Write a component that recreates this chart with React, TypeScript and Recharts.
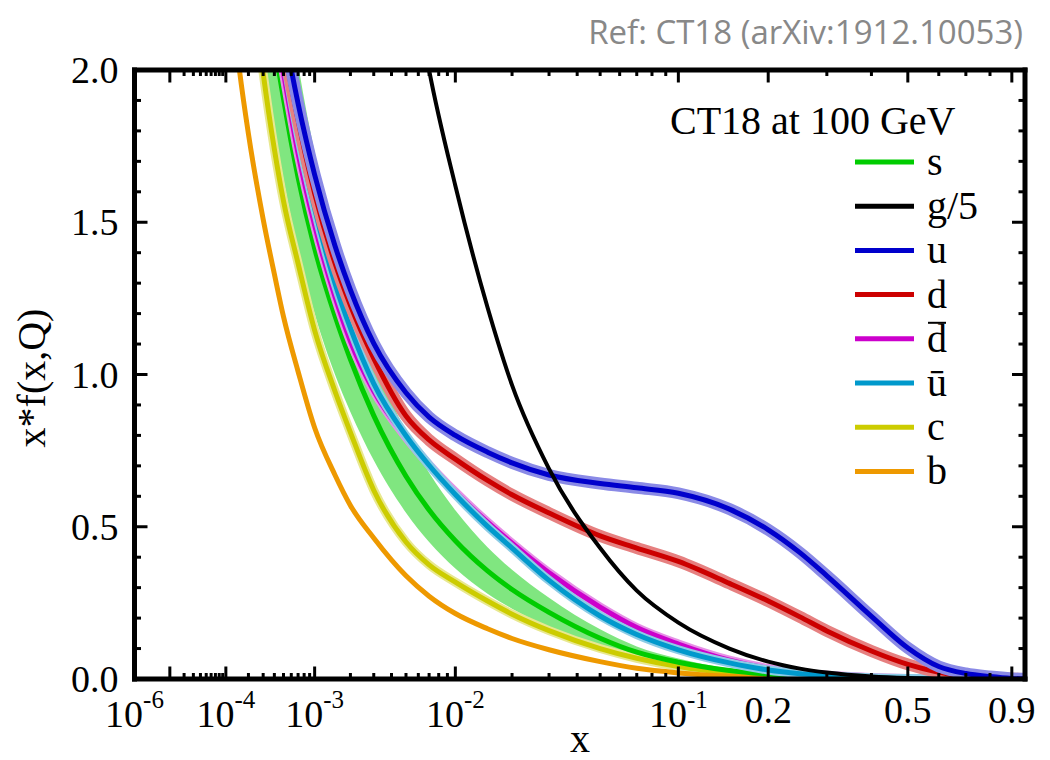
import React from 'react'
import { ComposedChart, Line, Area, XAxis, YAxis } from 'recharts'

// momentum fraction x where the curves are sampled
const xGrid = [
  1e-4, 1.5e-4, 2e-4, 3e-4, 4e-4, 5e-4, 7e-4, 1e-3, 1.5e-3, 2e-3,
  3e-3, 5e-3, 7e-3, 0.01, 0.015, 0.02, 0.03, 0.05, 0.07, 0.1,
  0.15, 0.2, 0.25, 0.3, 0.4, 0.5, 0.6, 0.7, 0.8, 0.9, 0.96,
]

// x*f(x,Q) at Q = 100 GeV
const sVals = [3.74, 3.15, 2.8, 2.36, 2.09, 1.905, 1.647, 1.414, 1.193, 1.05, 0.865, 0.666, 0.555, 0.454, 0.355, 0.294, 0.219, 0.134, 0.088, 0.055, 0.028, 0.016, 0.009, 0.0055, 0.002, 0.0008, 0, 0, 0, 0, 0]
const sLow = [3.25, 2.74, 2.44, 2.05, 1.81, 1.64, 1.41, 1.2, 1.0, 0.877, 0.718, 0.546, 0.45, 0.363, 0.28, 0.231, 0.171, 0.104, 0.0686, 0.043, 0.0218, 0.0125, 0.007, 0.0043, 0.0016, 0.0006, 0, 0, 0, 0, 0]
const sHigh = [4.6, 3.88, 3.45, 2.9, 2.57, 2.34, 2.02, 1.73, 1.46, 1.285, 1.055, 0.812, 0.677, 0.554, 0.433, 0.359, 0.267, 0.163, 0.107, 0.067, 0.034, 0.0195, 0.011, 0.0067, 0.0024, 0.001, 0, 0, 0, 0, 0]
const gOver5 = [12, 10.5, 9.5, 8.2, 7.4, 6.8, 5.9, 5.1, 4.3, 3.8, 3.2, 2.45, 2.0, 1.62, 1.22, 0.965, 0.69, 0.43, 0.29, 0.185, 0.1, 0.057, 0.034, 0.021, 0.008, 0.003, 0.001, 0.0003, 0, 0, 0]
const uVals = [3.89, 3.34, 3.0, 2.59, 2.32, 2.14, 1.89, 1.656, 1.423, 1.278, 1.102, 0.94, 0.86, 0.8, 0.745, 0.71, 0.67, 0.642, 0.628, 0.61, 0.558, 0.49, 0.415, 0.339, 0.206, 0.102, 0.041, 0.018, 0.008, 0.002, 0.0005]
const dVals = [3.85, 3.3, 2.95, 2.56, 2.29, 2.09, 1.835, 1.595, 1.366, 1.227, 1.053, 0.864, 0.785, 0.722, 0.652, 0.605, 0.545, 0.47, 0.43, 0.386, 0.314, 0.256, 0.204, 0.158, 0.092, 0.048, 0.022, 0.009, 0.003, 0.001, 0]
const dbarVals = [3.72, 3.2, 2.87, 2.44, 2.17, 1.99, 1.726, 1.49, 1.255, 1.109, 0.946, 0.794, 0.704, 0.614, 0.515, 0.446, 0.349, 0.236, 0.169, 0.115, 0.062, 0.035, 0.02, 0.012, 0.005, 0.002, 0.0008, 0, 0, 0, 0]
const ubarVals = [3.8, 3.28, 2.92, 2.52, 2.26, 2.06, 1.79, 1.545, 1.3, 1.152, 0.97, 0.799, 0.702, 0.606, 0.501, 0.43, 0.324, 0.207, 0.146, 0.096, 0.053, 0.0295, 0.0176, 0.0106, 0.004, 0.0015, 0.0005, 0, 0, 0, 0]
const cVals = [3.26, 2.72, 2.39, 1.99, 1.74, 1.57, 1.365, 1.145, 0.945, 0.81, 0.62, 0.45, 0.375, 0.318, 0.256, 0.213, 0.159, 0.1, 0.068, 0.041, 0.02, 0.01, 0.005, 0.003, 0.001, 0, 0, 0, 0, 0, 0]
const bVals = [2.43, 2.02, 1.79, 1.51, 1.33, 1.19, 1.01, 0.825, 0.67, 0.57, 0.463, 0.339, 0.272, 0.215, 0.165, 0.133, 0.096, 0.057, 0.035, 0.02, 0.009, 0.004, 0.002, 0.001, 0, 0, 0, 0, 0, 0, 0]

// axis ticks
const xMajor = [1e-6, 1e-5, 1e-4, 1e-3, 1e-2, 0.1, 0.2, 0.5, 0.9]
const xMajorLabels: (string[] | null)[] = [['10', '-6'], null, ['10', '-4'], ['10', '-3'], ['10', '-2'], ['10', '-1'], ['0.2'], ['0.5'], ['0.9']]
const xMinor = [
  2e-5, 3e-5, 4e-5, 5e-5, 6e-5, 7e-5, 8e-5, 9e-5,
  2e-4, 3e-4, 4e-4, 5e-4, 6e-4, 7e-4, 8e-4, 9e-4,
  2e-3, 3e-3, 4e-3, 5e-3, 6e-3, 7e-3, 8e-3, 9e-3,
  0.02, 0.03, 0.04, 0.05, 0.06, 0.07, 0.08, 0.09,
  0.3, 0.4, 0.6, 0.7, 0.8,
]
const yMajor = [0, 0.5, 1, 1.5, 2]
const yMajorLabels = ['0.0', '0.5', '1.0', '1.5', '2.0']
const yMinor = [0.1, 0.2, 0.3, 0.4, 0.6, 0.7, 0.8, 0.9, 1.1, 1.2, 1.3, 1.4, 1.6, 1.7, 1.8, 1.9]

const legendNames = ['s', 'g/5', 'u', 'd', 'd', '\u016b', 'c', 'b']
const legendColors = ['#00cc00', '#000000', '#0000cc', '#cc0000', '#cc00cc', '#0099cc', '#cccc00', '#ee9900']

const SERIF = '"Liberation Serif", "Times New Roman", serif'
const X_MIN = 1e-6
const X_MAX = 0.965
const XPOW = 0.2 // the x axis is linear in x^0.2
const tOf = (x: number) => Math.pow(x, XPOW)

const rows = xGrid.map((x, i) => ({
  t: tOf(x),
  s: sVals[i],
  sBand: [sLow[i], sHigh[i]],
  g: gOver5[i],
  u: uVals[i],
  d: dVals[i],
  dbar: dbarVals[i],
  ubar: ubarVals[i],
  c: cVals[i],
  b: bVals[i],
}))

const xTicks = [...xMajor, ...xMinor].map(tOf)
const yTicks = [...yMajor, ...yMinor]

const majorX = (v: number) => xMajor.findIndex((m) => Math.abs(tOf(m) - v) < 1e-9)
const majorY = (v: number) => yMajor.findIndex((m) => Math.abs(m - v) < 1e-9)

function BottomTick(props: any) {
  const { x, y, payload } = props
  const k = majorX(payload.value)
  const len = k >= 0 ? 12.5 : 6
  const lab = k >= 0 ? xMajorLabels[k] : null
  return (
    <g>
      <line x1={x} x2={x} y1={y} y2={y - len} stroke="#000" strokeWidth={3} />
      {lab && lab.length === 2 && (
        <text x={x} y={y + 48} textAnchor="middle" fontFamily={SERIF} fontSize={38} fill="#000">
          {lab[0]}
          <tspan dy={-19} fontSize={25}>{lab[1]}</tspan>
        </text>
      )}
      {lab && lab.length === 1 && (
        <text x={x} y={y + 44} textAnchor="middle" fontFamily={SERIF} fontSize={38} fill="#000">
          {lab[0]}
        </text>
      )}
    </g>
  )
}

function TopTick(props: any) {
  const { x, y, payload } = props
  const len = majorX(payload.value) >= 0 ? 12.5 : 6
  return <line x1={x} x2={x} y1={y} y2={y + len} stroke="#000" strokeWidth={3} />
}

function LeftTick(props: any) {
  const { x, y, payload } = props
  const k = majorY(payload.value)
  const len = k >= 0 ? 13 : 6.5
  return (
    <g>
      <line x1={x} x2={x + len} y1={y} y2={y} stroke="#000" strokeWidth={3} />
      {k >= 0 && (
        <text x={x - 16} y={y + 13} textAnchor="end" fontFamily={SERIF} fontSize={38} fill="#000">
          {yMajorLabels[k]}
        </text>
      )}
    </g>
  )
}

function RightTick(props: any) {
  const { x, y, payload } = props
  const len = majorY(payload.value) >= 0 ? 13 : 6.5
  return <line x1={x} x2={x - len} y1={y} y2={y} stroke="#000" strokeWidth={3} />
}

const frame = { stroke: '#000', strokeWidth: 5, strokeLinecap: 'square' as const }

function curve(key: string, color: string, width: number) {
  return (
    <Line
      type="monotone"
      dataKey={key}
      stroke={color}
      strokeWidth={width}
      dot={false}
      activeDot={false}
      isAnimationActive={false}
    />
  )
}

export default function App() {
  return (
    <div style={{ position: 'absolute', left: 0, top: 0, width: 1050, height: 760, background: '#fff' }}>
      <ComposedChart width={1050} height={760} data={rows} margin={{ top: 69, right: 24, bottom: 80, left: 133.5 }}>
        <Area type="monotone" dataKey="sBand" fill="#80e680" fillOpacity={1} stroke="none" isAnimationActive={false} />
        {curve('c', '#e8e890', 9)}
        {curve('c', '#cccc00', 5)}
        {curve('b', '#ee9900', 5)}
        {curve('s', '#00cc00', 5)}
        {curve('dbar', '#e690e6', 9)}
        {curve('dbar', '#cc00cc', 5)}
        {curve('ubar', '#8ccce6', 9)}
        {curve('ubar', '#0099cc', 5)}
        {curve('d', '#e68080', 12)}
        {curve('d', '#cc0000', 5)}
        {curve('u', '#8a8ae6', 12)}
        {curve('u', '#0000cc', 5)}
        {curve('g', '#000000', 4)}

        <XAxis
          type="number"
          dataKey="t"
          domain={[tOf(X_MIN), tOf(X_MAX)]}
          allowDataOverflow
          ticks={xTicks}
          interval={0}
          height={1}
          tickSize={0}
          tickMargin={0}
          tickLine={false}
          axisLine={frame}
          tick={BottomTick}
        />
        <XAxis
          xAxisId="top"
          orientation="top"
          type="number"
          dataKey="t"
          domain={[tOf(X_MIN), tOf(X_MAX)]}
          allowDataOverflow
          ticks={xTicks}
          interval={0}
          height={1}
          tickSize={0}
          tickMargin={0}
          tickLine={false}
          axisLine={frame}
          tick={TopTick}
        />
        <YAxis
          type="number"
          domain={[0, 2]}
          allowDataOverflow
          ticks={yTicks}
          interval={0}
          width={1}
          tickSize={0}
          tickMargin={0}
          tickLine={false}
          axisLine={frame}
          tick={LeftTick}
        />
        <YAxis
          yAxisId="right"
          orientation="right"
          type="number"
          domain={[0, 2]}
          allowDataOverflow
          ticks={yTicks}
          interval={0}
          width={1}
          tickSize={0}
          tickMargin={0}
          tickLine={false}
          axisLine={frame}
          tick={RightTick}
        />
      </ComposedChart>

      <svg width={1050} height={760} style={{ position: 'absolute', left: 0, top: 0, pointerEvents: 'none' }}>
        <text x={1023} y={44} textAnchor="end" fontFamily='"Open Sans", sans-serif' fontSize={33} fill="#888888">
          Ref: CT18 (arXiv:1912.10053)
        </text>
        <text transform="rotate(-90)" x={-378} y={45} textAnchor="middle" fontFamily={SERIF} fontSize={40} fill="#000">
          x*f(x,Q)
        </text>
        <text x={580} y={752} textAnchor="middle" fontFamily={SERIF} fontSize={40} fill="#000">
          x
        </text>
        <text x={670} y={134} fontFamily={SERIF} fontSize={40} fill="#000">
          CT18 at 100 GeV
        </text>
        {legendNames.map((name, i) => {
          const ly = 162 + i * 44.2
          return (
            <g key={i}>
              <line x1={855} x2={914} y1={ly} y2={ly} stroke={legendColors[i]} strokeWidth={5} />
              <text x={927} y={ly + 13} fontFamily={SERIF} fontSize={40} fill="#000">
                {name}
              </text>
              {i === 4 && <line x1={928} x2={946} y1={ly - 16} y2={ly - 16} stroke="#000" strokeWidth={2} />}
            </g>
          )
        })}
      </svg>
    </div>
  )
}
